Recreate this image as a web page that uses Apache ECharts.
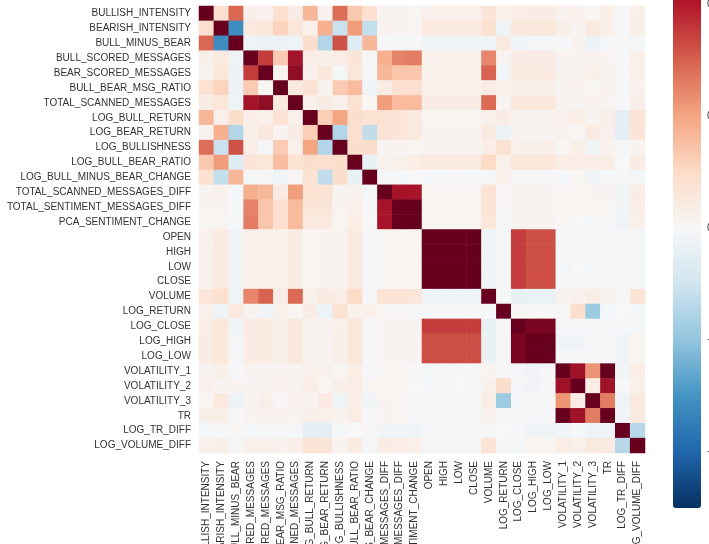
<!DOCTYPE html>
<html>
<head>
<meta charset="utf-8">
<title>Correlation heatmap</title>
<style>
  html, body { margin: 0; padding: 0; background: #fff; overflow: hidden; }
  #chart { width: 709px; height: 544px; }
</style>
<script src="https://cdn.jsdelivr.net/npm/echarts@6/dist/echarts.min.js"></script>
</head>
<body>
<div id="chart"></div>
<script>
  const labels = [
    'BULLISH_INTENSITY', 'BEARISH_INTENSITY', 'BULL_MINUS_BEAR', 'BULL_SCORED_MESSAGES',
    'BEAR_SCORED_MESSAGES', 'BULL_BEAR_MSG_RATIO', 'TOTAL_SCANNED_MESSAGES', 'LOG_BULL_RETURN',
    'LOG_BEAR_RETURN', 'LOG_BULLISHNESS', 'LOG_BULL_BEAR_RATIO', 'LOG_BULL_MINUS_BEAR_CHANGE',
    'TOTAL_SCANNED_MESSAGES_DIFF', 'TOTAL_SENTIMENT_MESSAGES_DIFF', 'PCA_SENTIMENT_CHANGE',
    'OPEN', 'HIGH', 'LOW', 'CLOSE', 'VOLUME', 'LOG_RETURN', 'LOG_CLOSE', 'LOG_HIGH', 'LOG_LOW',
    'VOLATILITY_1', 'VOLATILITY_2', 'VOLATILITY_3', 'TR', 'LOG_TR_DIFF', 'LOG_VOLUME_DIFF'
  ]

  // upper triangle of the correlation matrix, each row starts at its own diagonal
  const upperRows = [
    [1, .17, .58, .06, .04, .16, .08, .33, .04, .56, .27, .16, .03, .03, .02, .05, .05, .05, .05, .13, .05, .07, .08, .08, .04, .05, .02, .06, -.01, .05],
    [1, -.63, .1, .12, .23, .12, .05, .36, -.22, .43, -.24, .04, .03, .02, .09, .09, .09, .09, .16, -.05, .11, .11, .11, .06, .03, .1, .06, -.01, .06],
    [1, -.05, -.06, -.06, -.05, .18, -.3, .64, -.12, .33, -.01, -.01, -.01, -.03, -.03, -.03, -.03, -.05, .1, -.03, -.02, -.02, -.01, .03, -.06, -.01, .01, -.02],
    [1, .7, .26, .84, .07, .06, .07, .13, -.01, .36, .5, .52, .05, .05, .05, .05, .49, .03, .08, .08, .08, .03, .03, .03, .03, -.01, .05],
    [1, .02, .89, .05, .11, -.02, .12, -.02, .33, .28, .28, .05, .05, .05, .05, .59, -.03, .09, .09, .09, .03, .03, .06, .04, -.01, .05],
    [1, .1, .15, .03, .26, .31, -.03, .08, .17, .17, .05, .05, .05, .05, .08, .05, .06, .06, .06, .03, .04, .01, .04, -.01, .04],
    [1, .05, .08, .05, .15, .01, .42, .32, .32, .08, .08, .08, .08, .57, .02, .11, .11, .11, .03, .03, .04, .03, -.01, .06],
    [1, .25, .4, .18, .15, .15, .13, .1, .02, .02, .02, .02, .05, .08, .03, .03, .03, .05, .07, .03, .06, -.1, .14],
    [1, -.3, .17, -.25, .14, .13, .1, .03, .03, .03, .03, .09, -.06, .03, .03, .03, .04, .02, .09, .05, -.1, .13],
    [1, .18, .18, .03, .03, .02, .03, .03, .03, .03, .07, .15, .05, .06, .06, .02, .06, -.05, .04, -.01, .03],
    [1, -.07, .04, .05, .07, .1, .1, .1, .1, .2, .05, .12, .12, .12, .07, .07, .07, .07, 0, .08],
    [1, -.01, -.01, 0, -.01, -.01, -.01, -.01, -.01, .05, -.01, -.01, -.01, -.01, .02, -.04, -.01, .01, -.02],
    [1, .83, .83, .02, .02, .02, .02, .14, .01, .03, .03, .03, .02, .02, .03, .03, -.03, .08],
    [1, 1, .02, .02, .02, .02, .14, .01, .03, .03, .03, .02, .02, .02, .02, -.03, .07],
    [1, .02, .02, .02, .02, .12, -.01, .03, .03, .03, .01, 0, -.01, -.01, -.03, .05],
    [1, 1, 1, 1, -.05, -.01, .7, .65, .65, -.02, -.02, -.01, -.02, -.01, -.02],
    [1, 1, 1, -.05, -.01, .7, .65, .65, -.02, -.01, -.01, -.02, -.01, -.02],
    [1, 1, -.05, -.01, .7, .65, .65, -.02, 0, -.01, -.02, -.01, -.02],
    [1, -.05, -.01, .7, .65, .65, -.02, -.01, -.01, -.02, -.01, -.02],
    [1, -.01, -.08, -.07, -.07, .03, .05, .07, .04, -.02, .14],
    [1, .01, .01, .01, .01, .18, -.37, -.01, 0, -.02],
    [1, .95, .95, -.02, -.02, -.02, -.02, -.02, -.02],
    [1, 1, -.03, -.03, -.01, -.02, -.04, .02],
    [1, -.01, -.01, -.01, -.01, -.04, .02],
    [1, .85, .45, 1, -.03, .07],
    [1, .07, .85, -.01, .05],
    [1, .52, -.05, .1],
    [1, -.03, .09],
    [1, -.28],
    [1]
  ]

  const colorbarTicks = [-0.8, -0.4, 0, 0.4, 0.8]
  const rdBu = ['#053061', '#2166ac', '#4393c3', '#92c5de', '#d1e5f0', '#f7f7f7', '#fddbc7', '#f4a582', '#d6604d', '#b2182b', '#67001f']

  const cells = []
  upperRows.forEach((row, i) => {
    row.forEach((v, k) => {
      const j = i + k
      cells.push([j, i, v])
      if (j !== i) cells.push([i, j, v])
    })
  })

  const labelStyle = { color: '#333', fontFamily: 'Liberation Sans', fontSize: 10 }

  const chart = echarts.init(document.getElementById('chart'), null, { renderer: 'canvas' })
  chart.setOption({
    animation: false,
    backgroundColor: '#fff',
    grid: [
      { left: 199, top: 6, width: 446, height: 447, outerBoundsMode: 'none' },
      { left: 673, top: -52, width: 28, height: 560, outerBoundsMode: 'none' }
    ],
    xAxis: [
      {
        type: 'category',
        data: labels,
        gridIndex: 0,
        axisLine: { show: false },
        axisTick: { show: false },
        splitLine: { show: false },
        axisLabel: { ...labelStyle, interval: 0, rotate: 90, margin: 8 }
      },
      { type: 'value', gridIndex: 1, show: false }
    ],
    yAxis: [
      {
        type: 'category',
        data: labels,
        gridIndex: 0,
        inverse: true,
        axisLine: { show: false },
        axisTick: { show: false },
        splitLine: { show: false },
        axisLabel: { ...labelStyle, interval: 0, margin: 8 }
      },
      {
        type: 'value',
        gridIndex: 1,
        position: 'right',
        min: -1,
        max: 1,
        axisLine: { show: false },
        axisTick: { show: false },
        splitLine: { show: false },
        axisLabel: {
          ...labelStyle,
          margin: 6,
          customValues: colorbarTicks,
          formatter: v => v.toFixed(1).replace('-', '\u2212')
        }
      }
    ],
    visualMap: {
      type: 'continuous',
      seriesIndex: 0,
      min: -1,
      max: 1,
      left: 673,
      top: -52,
      padding: 0,
      itemWidth: 28,
      itemHeight: 560,
      calculable: false,
      hoverLink: false,
      text: null,
      inRange: { color: rdBu }
    },
    series: [
      {
        type: 'heatmap',
        xAxisIndex: 0,
        yAxisIndex: 0,
        data: cells,
        progressive: 0,
        itemStyle: { borderWidth: 0 },
        emphasis: { disabled: true }
      }
    ]
  })
</script>
</body>
</html>
